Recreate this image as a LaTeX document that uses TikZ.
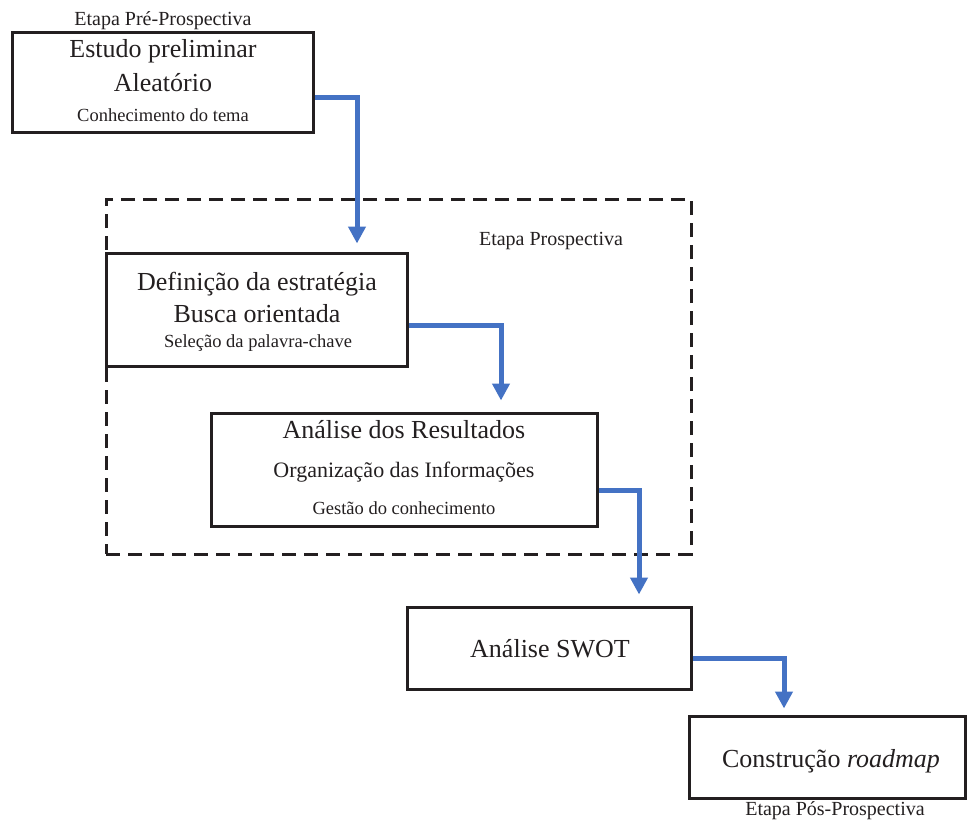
\documentclass[tikz,border=0pt]{standalone}
\usepackage{fontspec}
\setmainfont{Liberation Serif}
\usetikzlibrary{arrows.meta}
\definecolor{flowblue}{HTML}{4472C4}
\definecolor{boxline}{HTML}{231F20}
\newcommand{\fsA}{\fontsize{26}{30}\selectfont}
\newcommand{\fsB}{\fontsize{22}{26}\selectfont}
\newcommand{\fsC}{\fontsize{18.5}{22}\selectfont}
\newcommand{\fsL}{\fontsize{20}{24}\selectfont}
\tikzset{
  box/.style={draw=boxline, line width=3pt, inner sep=0pt, fill=none},
  frame/.style={draw=boxline, line width=3pt, inner sep=0pt, dash pattern=on 14pt off 8pt},
  txt/.style={anchor=base, inner sep=0pt, text=boxline},
  flow/.style={draw=flowblue, line width=5pt, -{Triangle[width=17pt,length=17pt]}}
}
\begin{document}
\begin{tikzpicture}[x=1pt,y=-1pt]
\useasboundingbox (0,0) rectangle (967,820);
% boxes
\node[box, minimum width=301pt, minimum height=100pt] (b1) at (162.5,82) {};
\node[frame, minimum width=585pt, minimum height=355pt] (fr) at (398.5,376.5) {};
\node[box, minimum width=301pt, minimum height=113pt] (b2) at (256.5,309.5) {};
\node[box, minimum width=386pt, minimum height=113pt] (b3) at (404,469.5) {};
\node[box, minimum width=284pt, minimum height=82pt] (b4) at (549,648) {};
\node[box, minimum width=276pt, minimum height=82pt] (b5) at (827,757) {};
% texts
\node[txt, font=\fsL] (l1) at (163,25) {Etapa Pré-Prospectiva};
\node[txt, font=\fsA] (t1a) at (163,57) {Estudo preliminar};
\node[txt, font=\fsA] (t1b) at (163,91) {Aleatório};
\node[txt, font=\fsC] (t1c) at (163,121) {Conhecimento do tema};
\node[txt, font=\fsL] (l2) at (551,245) {Etapa Prospectiva};
\node[txt, font=\fsA] (t2a) at (257,290) {Definição da estratégia};
\node[txt, font=\fsA] (t2b) at (257,322) {Busca orientada};
\node[txt, font=\fsC] (t2c) at (258,347) {Seleção da palavra-chave};
\node[txt, font=\fsA] (t3a) at (404,438) {Análise dos Resultados};
\node[txt, font=\fsB] (t3b) at (404,477) {Organização das Informações};
\node[txt, font=\fsC] (t3c) at (404,514) {Gestão do conhecimento};
\node[txt, font=\fsA] (t4) at (550,657) {Análise SWOT};
\node[txt, font=\fsA] (t5) at (831,767) {Construção \textit{roadmap}};
\node[txt, font=\fsL] (l3) at (835,815) {Etapa Pós-Prospectiva};
% connectors
\draw[flow] ([yshift=-15pt]b1.east) -| ([xshift=100.5pt,yshift=8pt]b2.north);
\draw[flow] ([yshift=-15.5pt]b2.east) -| ([xshift=97pt,yshift=11pt]b3.north);
\draw[flow] ([yshift=-21pt]b3.east) -| ([xshift=90pt,yshift=11pt]b4.north);
\draw[flow] ([yshift=-10pt]b4.east) -| ([xshift=-43pt,yshift=6pt]b5.north);
\end{tikzpicture}
\end{document}
